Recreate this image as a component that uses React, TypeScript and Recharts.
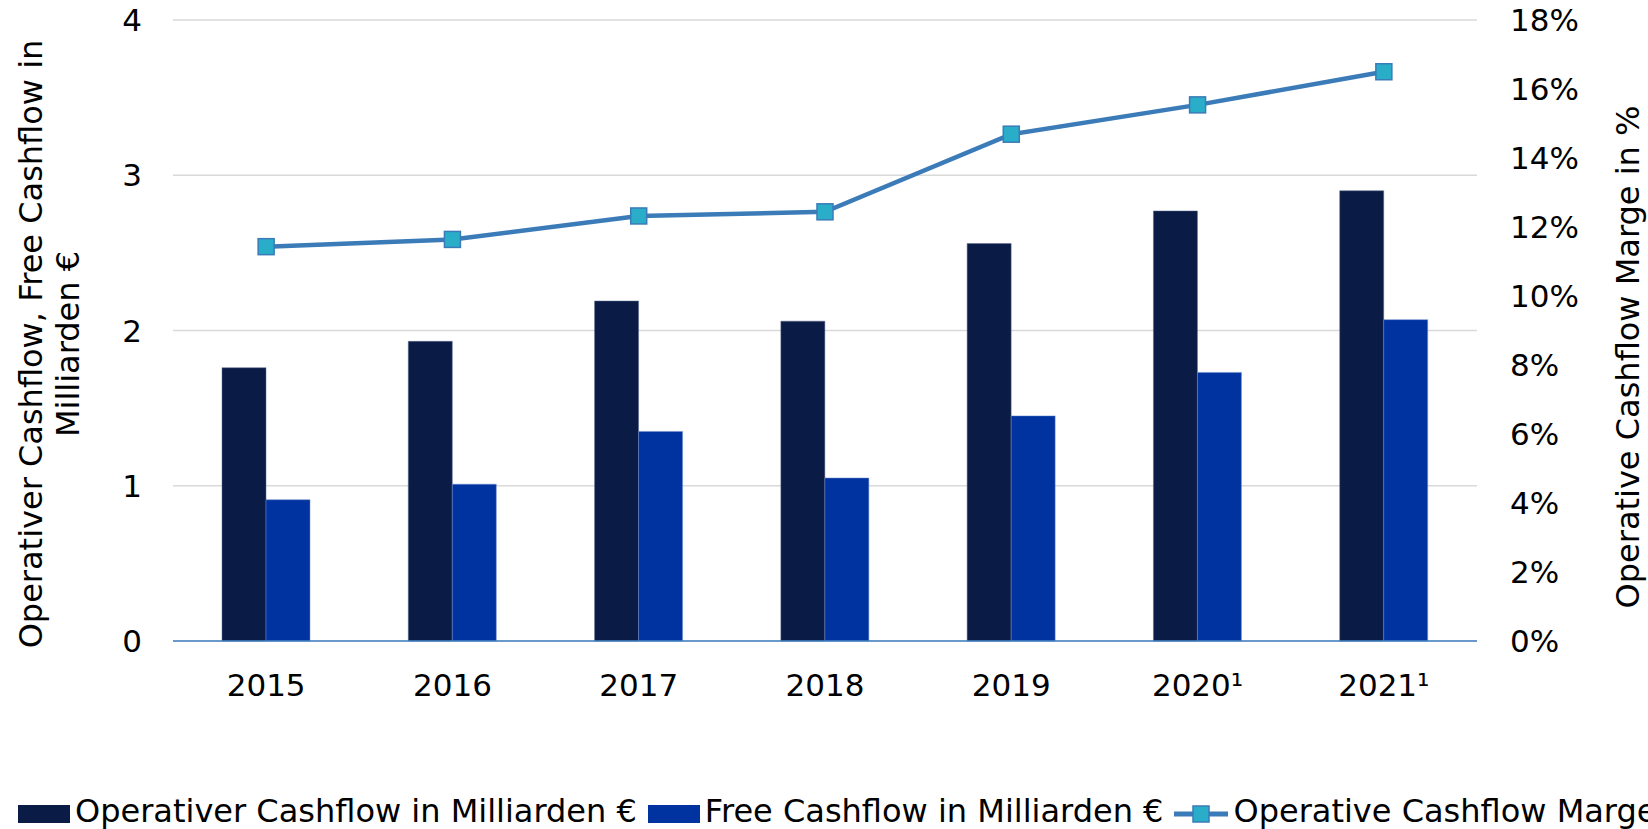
import { ComposedChart, Bar, Line, XAxis, YAxis, CartesianGrid, Legend } from 'recharts';

const years = ['2015', '2016', '2017', '2018', '2019', '2020¹', '2021¹'];
const operativerCashflow = [1.76, 1.93, 2.19, 2.06, 2.56, 2.77, 2.9];
const freeCashflow = [0.91, 1.01, 1.35, 1.05, 1.45, 1.73, 2.07];
const cashflowMarge = [11.43, 11.64, 12.32, 12.44, 14.69, 15.54, 16.5];
const leftTicks = [0, 1, 2, 3, 4];
const rightTicks = [0, 2, 4, 6, 8, 10, 12, 14, 16, 18];

const seriesNames = {
  op: 'Operativer Cashflow in Milliarden €',
  free: 'Free Cashflow in Milliarden €',
  marge: 'Operative Cashflow Marge in %',
};

const DARK = '#0a1c45';
const BLUE = '#0033a0';
const LINE = '#3a7bb8';
const MARKER = '#29adc9';

const data = years.map((year, i) => ({
  year,
  op: operativerCashflow[i],
  free: freeCashflow[i],
  marge: cashflowMarge[i],
}));

const SquareDot = (props: any) => {
  const { cx, cy, index } = props;
  return (
    <rect key={index} x={cx - 8} y={cy - 8} width={16} height={16} fill={MARKER} stroke={LINE} strokeWidth={1.5} />
  );
};

const renderLegend = () => {
  const items = [
    { name: seriesNames.op, type: 'bar', color: DARK },
    { name: seriesNames.free, type: 'bar', color: BLUE },
    { name: seriesNames.marge, type: 'line', color: LINE },
  ];
  return (
    <div style={{ display: 'flex', whiteSpace: 'nowrap', fontSize: 32, lineHeight: '40px', color: '#000' }}>
      {items.map((it) => (
        <div key={it.name} style={{ display: 'flex', alignItems: 'center', marginRight: 11 }}>
          {it.type === 'bar' ? (
            <svg width={52} height={18} style={{ marginRight: 5, position: 'relative', top: 3 }}>
              <rect x={0} y={0} width={52} height={18} fill={it.color} />
            </svg>
          ) : (
            <svg width={54} height={18} style={{ marginRight: 5, position: 'relative', top: 3 }}>
              <line x1={0} y1={9} x2={54} y2={9} stroke={LINE} strokeWidth={5} />
              <rect x={19} y={1} width={16} height={16} fill={MARKER} stroke={LINE} strokeWidth={1.5} />
            </svg>
          )}
          <span>{it.name}</span>
        </div>
      ))}
    </div>
  );
};

export default function App() {
  return (
    <div
      style={{
        position: 'absolute',
        left: 0,
        top: 0,
        width: 1648,
        height: 829,
        overflow: 'hidden',
        background: '#fff',
        fontFamily: '"DejaVu Sans", Verdana, sans-serif',
      }}
    >
      <ComposedChart
        width={1648}
        height={829}
        data={data}
        margin={{ top: 20, right: 0, bottom: 128, left: 0 }}
        barGap={0}
      >
        <CartesianGrid yAxisId="left" vertical={false} stroke="#d9d9d9" strokeWidth={1.5} />
        <XAxis
          dataKey="year"
          height={60}
          interval={0}
          tickLine={false}
          tickSize={0}
          tickMargin={33}
          axisLine={{ stroke: '#3f80c2', strokeWidth: 1.5 }}
          tick={{ fontSize: 31, fill: '#000' }}
        />
        <YAxis
          yAxisId="left"
          orientation="left"
          width={173}
          domain={[0, 4]}
          ticks={leftTicks}
          axisLine={false}
          tickLine={false}
          tickSize={0}
          tickMargin={31}
          tick={{ fontSize: 31, fill: '#000' }}
          label={{
            content: () => (
              <g>
                <text x={31} y={344} transform="rotate(-90, 31, 344)" textAnchor="middle" dominantBaseline="central" fontSize={32} fill="#000">
                  Operativer Cashflow, Free Cashflow in
                </text>
                <text x={68} y={344} transform="rotate(-90, 68, 344)" textAnchor="middle" dominantBaseline="central" fontSize={32} fill="#000">
                  Milliarden €
                </text>
              </g>
            ),
          }}
        />
        <YAxis
          yAxisId="right"
          orientation="right"
          width={171}
          domain={[0, 18]}
          ticks={rightTicks}
          axisLine={false}
          tickLine={false}
          tickSize={0}
          tickMargin={33}
          tickFormatter={(v: number) => `${v}%`}
          tick={{ fontSize: 31, fill: '#000' }}
          label={{
            content: () => (
              <text x={1628} y={357} transform="rotate(-90, 1628, 357)" textAnchor="middle" dominantBaseline="central" fontSize={32} fill="#000">
                {seriesNames.marge}
              </text>
            ),
          }}
        />
        <Bar yAxisId="left" dataKey="op" name={seriesNames.op} fill={DARK} barSize={44} stroke="#5b6b8f" strokeOpacity={0.5} strokeWidth={1} isAnimationActive={false} />
        <Bar yAxisId="left" dataKey="free" name={seriesNames.free} fill={BLUE} barSize={44} stroke="#6f8fd0" strokeOpacity={0.5} strokeWidth={1} isAnimationActive={false} />
        <Line
          yAxisId="right"
          type="linear"
          dataKey="marge"
          name={seriesNames.marge}
          stroke={LINE}
          strokeWidth={4.5}
          dot={SquareDot}
          activeDot={false}
          isAnimationActive={false}
        />
        <Legend
          layout="horizontal"
          verticalAlign="middle"
          align="center"
          wrapperStyle={{ top: 791, left: 18, width: 1800 }}
          content={renderLegend}
        />
      </ComposedChart>
    </div>
  );
}
